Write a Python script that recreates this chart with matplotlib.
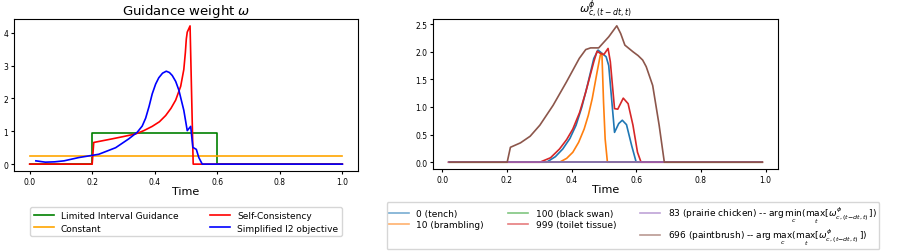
import matplotlib
matplotlib.use('Agg')
import matplotlib.pyplot as plt

# ---- left panel: guidance weight schedules ----
lig_t = [0.0, 0.2, 0.2, 0.6, 0.6, 1.0]
lig_w = [0.0, 0.0, 0.95, 0.95, 0.0, 0.0]

const_t = [0.0, 1.0]
const_w = [0.25, 0.25]

sc_t = [0.0, 0.2, 0.205, 0.264, 0.30, 0.339, 0.365, 0.392, 0.415, 0.435, 0.452, 0.467,
        0.483, 0.493, 0.498, 0.501, 0.504, 0.513, 0.523, 1.0]
sc_w = [0.0, 0.0, 0.66, 0.77, 0.84, 0.92, 1.02, 1.15, 1.29, 1.48, 1.70, 1.95,
        2.37, 2.88, 3.40, 3.81, 4.02, 4.21, 0.0, 0.0]

l2_t = [0.02, 0.05, 0.08, 0.11, 0.157, 0.221, 0.275, 0.317, 0.344, 0.36, 0.371, 0.382, 0.392,
        0.403, 0.413, 0.425, 0.437, 0.447, 0.456, 0.467, 0.477, 0.493, 0.504, 0.515,
        0.522, 0.533, 0.541, 0.552, 1.0]
l2_w = [0.10, 0.06, 0.07, 0.10, 0.20, 0.30, 0.50, 0.77, 0.97, 1.16, 1.40, 1.76, 2.14,
        2.44, 2.63, 2.77, 2.83, 2.79, 2.70, 2.52, 2.26, 1.64, 1.02, 1.15,
        0.51, 0.45, 0.20, 0.0, 0.0]

# ---- right panel: per-class weights ----
tench_t = [0.02, 0.323, 0.35, 0.373, 0.395, 0.414, 0.432, 0.449, 0.469, 0.482, 0.507, 0.515,
           0.533, 0.546, 0.557, 0.57, 0.586, 0.60, 0.99]
tench_w = [0.0, 0.0, 0.10, 0.24, 0.43, 0.67, 1.00, 1.39, 1.88, 2.03, 1.91, 1.75,
           0.54, 0.70, 0.76, 0.68, 0.30, 0.0, 0.0]

brambling_t = [0.02, 0.363, 0.385, 0.404, 0.422, 0.439, 0.452, 0.464, 0.479, 0.489, 0.494,
               0.499, 0.504, 0.511, 0.99]
brambling_w = [0.0, 0.0, 0.07, 0.18, 0.36, 0.60, 0.85, 1.15, 1.63, 1.94, 1.97,
               1.09, 0.42, 0.0, 0.0]

swan_t = [0.02, 0.99]
swan_w = [0.0, 0.0]

tissue_t = [0.02, 0.302, 0.335, 0.363, 0.385, 0.404, 0.425, 0.444, 0.469, 0.479, 0.489, 0.50,
            0.513, 0.52, 0.533, 0.543, 0.56, 0.575, 0.59, 0.604, 0.615, 0.99]
tissue_w = [0.0, 0.0, 0.08, 0.24, 0.41, 0.60, 0.90, 1.27, 1.82, 2.01, 1.97, 1.95,
            2.06, 1.82, 0.97, 0.96, 1.16, 1.06, 0.67, 0.18, 0.0, 0.0]

chicken_t = [0.02, 0.99]
chicken_w = [0.0, 0.0]

brush_t = [0.024, 0.201, 0.211, 0.242, 0.272, 0.302, 0.343, 0.384, 0.424, 0.444, 0.459, 0.484,
           0.515, 0.54, 0.552, 0.565, 0.59, 0.606, 0.62, 0.631, 0.651, 0.671, 0.687, 0.99]
brush_w = [0.0, 0.0, 0.27, 0.35, 0.47, 0.67, 1.03, 1.45, 1.88, 2.04, 2.07, 2.07,
           2.27, 2.47, 2.33, 2.12, 2.00, 1.93, 1.85, 1.73, 1.39, 0.67, 0.0, 0.0]

argmax_lbl = r'$\arg\max_c(\max_t[\omega^{\phi}_{c,(t-dt,t)}])$'
argmin_lbl = r'$\arg\min_c(\max_t[\omega^{\phi}_{c,(t-dt,t)}])$'

fig = plt.figure(figsize=(8.97, 2.53), dpi=100)
ax1 = fig.add_axes([0.0156, 0.320, 0.3835, 0.601])
ax2 = fig.add_axes([0.4827, 0.328, 0.3846, 0.593])

ax1.plot(lig_t, lig_w, color='green', lw=1.2, label='Limited Interval Guidance')
ax1.plot(const_t, const_w, color='orange', lw=1.2, label='Constant')
ax1.plot(sc_t, sc_w, color='red', lw=1.2, label='Self-Consistency')
ax1.plot(l2_t, l2_w, color='blue', lw=1.2, label='Simplified l2 objective')
ax1.set_title(r'Guidance weight $\omega$', fontsize=9.5, pad=3)
ax1.set_xlabel('Time', fontsize=8, labelpad=0)
ax1.tick_params(labelsize=5.5, length=2.5, pad=1.5)
ax1.legend(loc='upper center', bbox_to_anchor=(0.2074, 0.194), bbox_transform=fig.transFigure,
           ncol=2, fontsize=6.5, handlelength=2.2, columnspacing=3.5, labelspacing=0.4)

ax2.plot(tench_t, tench_w, color='C0', lw=1.2, label='0 (tench)')
ax2.plot(brambling_t, brambling_w, color='C1', lw=1.2, label='10 (brambling)')
ax2.plot(swan_t, swan_w, color='C2', lw=1.2, label='100 (black swan)')
ax2.plot(tissue_t, tissue_w, color='C3', lw=1.2, label='999 (toilet tissue)')
ax2.plot(chicken_t, chicken_w, color='C4', lw=1.2, label='83 (prairie chicken) -- ' + argmin_lbl)
ax2.plot(brush_t, brush_w, color='C5', lw=1.2, label='696 (paintbrush) -- ' + argmax_lbl)
ax2.set_title(r'$\omega^{\phi}_{c,(t-dt,t)}$', fontsize=8, pad=0)
ax2.set_xlabel('Time', fontsize=8, labelpad=0)
ax2.tick_params(labelsize=5.5, length=2.5, pad=1.5)
ax2.set_yticks([0.0, 0.5, 1.0, 1.5, 2.0, 2.5])
leg = ax2.legend(loc='upper center', bbox_to_anchor=(0.7057, 0.2055), bbox_transform=fig.transFigure,
                 ncol=3, fontsize=6.5, handlelength=2.2, columnspacing=2.7, labelspacing=0.15,
                 borderpad=0.3, borderaxespad=0.2)
for h in leg.get_lines():
    h.set_alpha(0.6)

fig.savefig('out.png', dpi=100)
